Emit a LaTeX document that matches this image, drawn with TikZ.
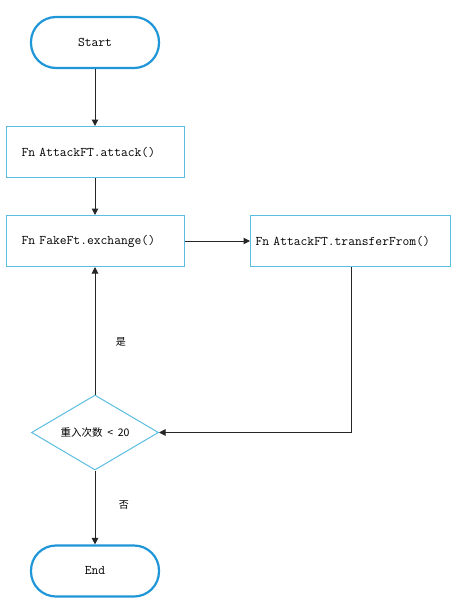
\documentclass[tikz,border=0pt]{standalone}
\usepackage{fontspec}
\newfontfamily\cjk{Noto Sans CJK SC}
\usetikzlibrary{shapes.geometric,arrows.meta}
\definecolor{termblue}{HTML}{1E96D8}
\definecolor{boxblue}{HTML}{5BBEE0}
\tikzset{
  x=1pt,y=-1pt,
  term/.style={draw=termblue,line width=2.2pt,rounded corners=25pt,minimum width=128pt,minimum height=51pt,font=\ttfamily\fontsize{13.2}{15}\selectfont},
  fnbox/.style={draw=boxblue,line width=1pt,minimum height=51pt,font=\ttfamily\fontsize{13.2}{15}\selectfont,align=left},
  decide/.style={diamond,draw=boxblue,line width=1pt,aspect=1.7,minimum width=127pt,minimum height=75pt,inner sep=0pt,font=\cjk\fontsize{10.5}{12}\selectfont},
  conn/.style={draw=black!85,line width=1pt,-{Triangle[length=6.5pt,width=6.5pt]}},
  lbl/.style={font=\cjk\fontsize{10}{12}\selectfont}
}
\begin{document}
\begin{tikzpicture}
\useasboundingbox (0,0) rectangle (461,605);
\fill[white] (0,0) rectangle (461,605);
\node[term] (start) at (95,42.5) {Start};
\node[fnbox,inner xsep=15pt,text width=148pt] (a1) at (95.5,152) {Fn AttackFT.attack()};
\node[fnbox,inner xsep=15pt,text width=148pt] (a2) at (95.5,241) {Fn FakeFt.exchange()};
\node[fnbox,inner xsep=5pt,text width=190pt] (a3) at (350.5,241) {Fn AttackFT.transferFrom()};
\node[decide] (d) at (95,432.5) {重入次数\ \ <\ \ 20};
\node[term] (end) at (95,571) {End};
\coordinate (c1) at (351,432.5);
\draw[conn] (start.south) -- (start.south |- a1.north);
\draw[conn] (a1.south -| start.south) -- (start.south |- a2.north);
\draw[conn] (a2) -- (a3);
\draw[conn] (a3.south -| c1) -- (c1) -- (d.east);
\draw[conn] (d.north) -- node[lbl,right=17pt,pos=0.41] {是} (d.north |- a2.south);
\draw[conn] (d.south) -- node[lbl,right=20pt,pos=0.47] {否} (end.north);
\end{tikzpicture}
\end{document}
